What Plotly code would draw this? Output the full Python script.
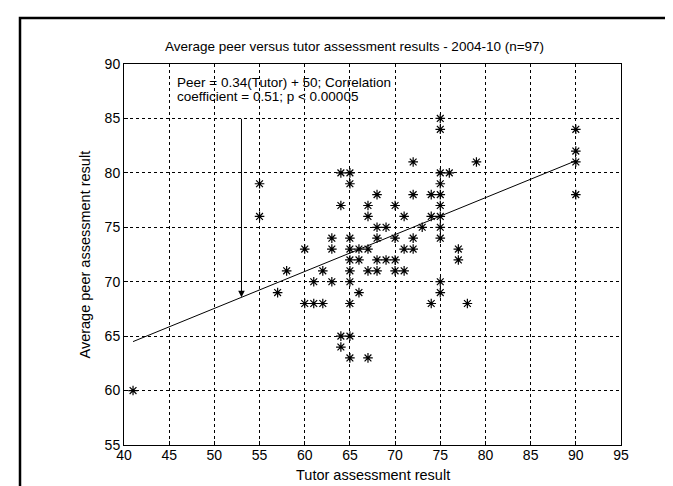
import plotly.graph_objects as go

# Data (distinct visible points)
tutor = [41, 55, 55, 57, 58, 60, 60, 61, 61, 62, 62, 63, 63, 63, 64, 64, 64, 64,
         65, 65, 65, 65, 65, 65, 65, 65, 65, 65, 66, 66, 66, 67, 67, 67, 67, 67,
         68, 68, 68, 68, 68, 69, 69, 70, 70, 70, 70, 71, 71, 71, 72, 72, 72, 72,
         73, 74, 74, 74, 75, 75, 75, 75, 75, 75, 75, 75, 75, 75, 75, 76, 77, 77,
         78, 79, 90, 90, 90, 90]
peer = [60, 79, 76, 69, 71, 73, 68, 70, 68, 71, 68, 74, 73, 70, 80, 77, 65, 64,
        80, 79, 74, 73, 72, 71, 70, 68, 65, 63, 73, 72, 69, 77, 76, 73, 71, 63,
        78, 75, 74, 72, 71, 75, 72, 77, 74, 72, 71, 76, 73, 71, 81, 78, 74, 73,
        75, 78, 76, 68, 85, 84, 80, 79, 78, 77, 76, 75, 74, 70, 69, 80, 73, 72,
        68, 81, 84, 82, 81, 78]

fit_slope = 0.339
fit_intercept = 50.6
fit_x = [41, 90]

arrow_x = 53
arrow_y_from = 85.1

title_text = "Average peer versus tutor assessment results - 2004-10 (n=97)"
note_line1 = "Peer = 0.34(Tutor) + 50; Correlation"
note_line2 = "coefficient = 0.51; p < 0.00005"
x_label = "Tutor assessment result"
y_label = "Average peer assessment result"

x_ticks = list(range(40, 100, 5))
y_ticks = list(range(55, 95, 5))

W, H = 673, 486
L, R, T, B = 116, 613, 56, 437  # plot area pixel edges
pw, ph = R - L, B - T

def px_x(p):
    return (p - L) / pw

def px_y(p):
    return (B - p) / ph

FONT = "Liberation Sans, Arial, sans-serif"

fig = go.Figure()
fig.add_trace(go.Scatter(
    x=fit_x, y=[fit_slope * v + fit_intercept for v in fit_x],
    mode="lines", line=dict(color="black", width=1), hoverinfo="skip",
    showlegend=False))
fig.add_trace(go.Scatter(
    x=tutor, y=peer, mode="markers",
    marker=dict(symbol="asterisk-open", size=8, color="black",
                line=dict(color="black", width=1.2)),
    showlegend=False))

axis_common = dict(
    showline=True, linecolor="black", linewidth=1, mirror=True,
    ticks="inside", ticklen=4, tickcolor="black",
    showgrid=True, gridcolor="black", gridwidth=1, griddash="3px,3px",
    zeroline=False, tickfont=dict(family=FONT, size=14, color="black"),
)

fig.update_xaxes(range=[40, 95], tickvals=x_ticks, ticktext=[str(v) for v in x_ticks],
                 ticklabelstandoff=-3, **axis_common)
fig.update_yaxes(range=[55, 90], tickvals=y_ticks, ticktext=[str(v) for v in y_ticks],
                 **axis_common)

annotations = [
    dict(text=title_text, xref="paper", yref="paper", x=px_x(155), y=px_y(38),
         xanchor="left", yanchor="middle", showarrow=False,
         font=dict(family=FONT, size=13.5, color="black")),
    dict(text=note_line1, xref="paper", yref="paper", x=px_x(167), y=px_y(74),
         xanchor="left", yanchor="middle", showarrow=False,
         font=dict(family=FONT, size=13.5, color="black")),
    dict(text=note_line2, xref="paper", yref="paper", x=px_x(167), y=px_y(89),
         xanchor="left", yanchor="middle", showarrow=False,
         font=dict(family=FONT, size=13.5, color="black")),
    dict(text=x_label, xref="paper", yref="paper", x=0.5, y=px_y(467),
         xanchor="center", yanchor="middle", showarrow=False,
         font=dict(family=FONT, size=14.5, color="black")),
    dict(text=y_label, xref="paper", yref="paper", x=px_x(76), y=0.5,
         xanchor="center", yanchor="middle", textangle=-90, showarrow=False,
         font=dict(family=FONT, size=14.5, color="black")),
    dict(x=arrow_x, y=fit_slope * arrow_x + fit_intercept, ax=arrow_x, ay=arrow_y_from,
         xref="x", yref="y", axref="x", ayref="y", text="", showarrow=True,
         arrowhead=2, arrowsize=1.3, arrowwidth=1, arrowcolor="black"),
]

fig.update_layout(
    width=W, height=H,
    margin=dict(l=L, r=W - R, t=T, b=H - B, autoexpand=False),
    paper_bgcolor="white", plot_bgcolor="white",
    showlegend=False,
    annotations=annotations,
    shapes=[dict(type="rect", xref="paper", yref="paper",
                 x0=px_x(12), x1=px_x(666), y0=px_y(520), y1=px_y(10),
                 line=dict(color="black", width=2.5), fillcolor="rgba(0,0,0,0)",
                 layer="above")],
)

fig.write_html("out.html")
